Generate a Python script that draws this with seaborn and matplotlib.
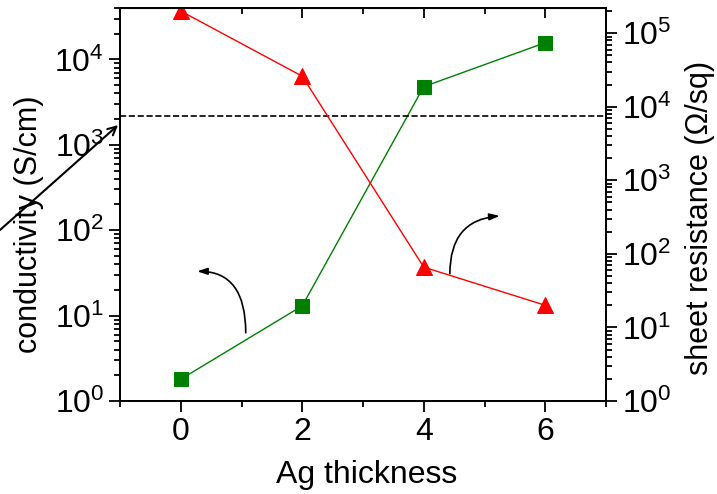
import numpy as np
import pandas as pd
import matplotlib
matplotlib.use('Agg')
import matplotlib.pyplot as plt
from matplotlib.ticker import LogLocator, NullFormatter, MultipleLocator
import seaborn as sns

# data
ag_thickness = [0, 2, 4, 6]
conductivity = [1.8, 13, 4800, 15700]          # S/cm, left axis
sheet_resistance = [2.0e5, 2.6e4, 66, 20]       # Ohm/sq, right axis
dashed_level = 2200

sns.set_style('white')
plt.rcParams['font.family'] = ['Liberation Sans', 'DejaVu Sans']
plt.rcParams['mathtext.default'] = 'regular'
plt.rcParams['text.color'] = 'k'
plt.rcParams['axes.labelcolor'] = 'k'
plt.rcParams['xtick.color'] = 'k'
plt.rcParams['ytick.color'] = 'k'
FS = 23

fig = plt.figure(figsize=(7.17, 4.94), dpi=100)
ax = fig.add_axes([120 / 717, 93 / 494, 486 / 717, 393 / 494])
ax2 = ax.twinx()

df_c = pd.DataFrame({'x': ag_thickness, 'y': conductivity})
df_r = pd.DataFrame({'x': ag_thickness, 'y': sheet_resistance})

ax.set_yscale('log')
ax2.set_yscale('log')

sns.lineplot(data=df_c, x='x', y='y', ax=ax, color='#008000', lw=1,
             marker='s', markersize=10, markeredgecolor='#008000', estimator=None)
sns.lineplot(data=df_r, x='x', y='y', ax=ax2, color='#ff0000', lw=1,
             marker='^', markersize=11, markeredgecolor='#ff0000', estimator=None)

ax.axhline(dashed_level, color='k', ls='--', lw=1.2)

ax.set_xlim(-1, 7)
ax.set_ylim(1, 4e4)
ax2.set_ylim(1, 2.2e5)

ax.xaxis.set_major_locator(MultipleLocator(2))
ax.xaxis.set_minor_locator(MultipleLocator(1))
for a in (ax, ax2):
    a.yaxis.set_major_locator(LogLocator(base=10, numticks=10))
    a.yaxis.set_minor_locator(LogLocator(base=10, subs=np.arange(2, 10), numticks=10))
    a.yaxis.set_minor_formatter(NullFormatter())
    for s in a.spines.values():
        s.set_linewidth(1.3)
        s.set_color('k')

ax.tick_params(axis='x', which='both', direction='out', bottom=True, top=False, labelsize=FS, width=1.3)
ax.tick_params(axis='x', which='major', length=8)
ax.tick_params(axis='x', which='minor', length=4)
ax.tick_params(axis='y', which='both', direction='out', left=True, labelsize=FS, width=1.3)
ax.tick_params(axis='y', which='major', length=8)
ax.tick_params(axis='y', which='minor', length=4)
ax2.tick_params(axis='y', which='both', direction='out', right=True, labelsize=FS, width=1.3)
ax2.tick_params(axis='y', which='major', length=8)
ax2.tick_params(axis='y', which='minor', length=4)

# inward ticks on the top spine
top = ax.secondary_xaxis('top')
top.xaxis.set_major_locator(MultipleLocator(2))
top.xaxis.set_minor_locator(MultipleLocator(1))
top.tick_params(which='both', direction='in', labeltop=False, width=1.3)
top.tick_params(which='major', length=7)
top.tick_params(which='minor', length=4)

ax.set_xlabel('Ag thickness', fontsize=FS)
ax.set_ylabel('conductivity (S/cm)', fontsize=22)
ax2.set_ylabel('sheet resistance (\u03a9/sq)', fontsize=22)
ax.xaxis.set_label_coords(0.508, -0.15)
ax.yaxis.set_label_coords(-0.156, 0.45)
ax2.yaxis.set_label_coords(1.163, 0.466)

# curved arrows pointing to each series' axis
ax.annotate('', xy=(0.27, 33), xytext=(1.07, 6.3),
            arrowprops=dict(arrowstyle='-|>,head_length=0.6,head_width=0.2', color='k', lw=1.2,
                            connectionstyle='angle3,angleA=90,angleB=0', shrinkA=0, shrinkB=0))
ax.annotate('', xy=(5.25, 147), xytext=(4.43, 31),
            arrowprops=dict(arrowstyle='-|>,head_length=0.6,head_width=0.2', color='k', lw=1.2,
                            connectionstyle='angle3,angleA=90,angleB=5', shrinkA=0, shrinkB=0))

# straight arrow from outside the frame
ax.annotate('', xy=(-0.004, 0.702), xycoords='axes fraction',
            xytext=(-0.247, 0.435), textcoords='axes fraction',
            arrowprops=dict(arrowstyle='->,head_length=0.6,head_width=0.3', color='k', lw=1.5,
                            shrinkA=0, shrinkB=0),
            annotation_clip=False)

fig.savefig('out.png', dpi=100)
